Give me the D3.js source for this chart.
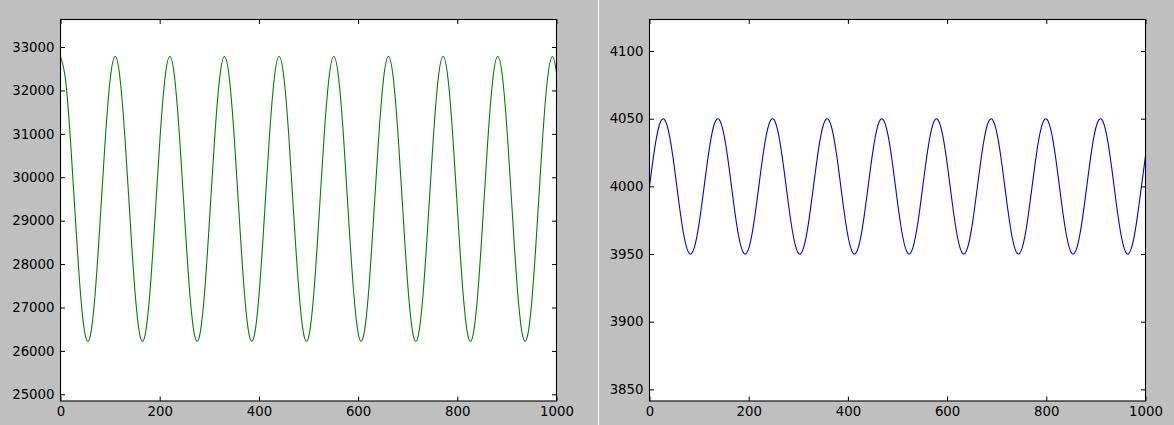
<!DOCTYPE html>
<html>
<head>
<meta charset="utf-8">
<script src="https://cdn.jsdelivr.net/npm/d3@7"></script>
<style>
  html, body { margin: 0; padding: 0; background: #bfbfbf; }
  svg { display: block; }
  text { font-family: "DejaVu Sans", sans-serif; }
</style>
</head>
<body>
<svg id="chart" width="1174" height="425"></svg>
<script>
// ---- data ----
const sampleX = [0,10.0,20.0,30.1,40.1,50.1,60.1,70.1,80.1,90.2,100.2,
  110.2,120.2,130.2,140.3,150.3,160.3,170.3,180.3,190.3,200.4,210.4,
  220.4,230.4,240.4,250.5,260.5,270.5,280.5,290.5,300.5,310.6,320.6,
  330.6,340.6,350.6,360.7,370.7,380.7,390.7,400.7,410.7,420.8,430.8,
  440.8,450.8,460.8,470.8,480.9,490.9,500.9,510.9,520.9,531.0,541.0,
  551.0,561.0,571.0,581.0,591.1,601.1,611.1,621.1,631.1,641.2,651.2,
  661.2,671.2,681.2,691.3,701.3,711.3,721.3,731.3,741.3,751.4,761.4,
  771.4,781.4,791.4,801.5,811.5,821.5,831.5,841.5,851.5,861.6,871.6,
  881.6,891.6,901.6,911.7,921.7,931.7,941.7,951.7,961.7,971.8,981.8,
  991.8,1000];

const leftValues = [
  32780,32259,30863,29033,27352,26353,26353,27352,29033,30863,32259,
  32780,32259,30863,29033,27352,26353,26353,27352,29033,30863,32259,
  32780,32259,30863,29033,27352,26353,26353,27352,29033,30863,32259,
  32780,32259,30863,29033,27352,26353,26353,27352,29033,30863,32259,
  32780,32259,30863,29033,27352,26353,26353,27352,29033,30863,32259,
  32780,32259,30863,29033,27352,26353,26353,27352,29033,30863,32259,
  32780,32259,30863,29033,27352,26353,26353,27352,29033,30863,32259,
  32780,32259,30863,29033,27352,26353,26353,27352,29033,30863,32259,
  32780,32259,30863,29033,27352,26353,26353,27352,29033,30863,32259,
  32780,32428];

const rightValues = [
  4000,4027.0,4045.5,4049.5,4037.8,4014.1,3985.9,3962.2,3950.5,3954.5,3973.0,
  4000,4027.0,4045.5,4049.5,4037.8,4014.1,3985.9,3962.2,3950.5,3954.5,3973.0,
  4000,4027.0,4045.5,4049.5,4037.8,4014.1,3985.9,3962.2,3950.5,3954.5,3973.0,
  4000,4027.0,4045.5,4049.5,4037.8,4014.1,3985.9,3962.2,3950.5,3954.5,3973.0,
  4000,4027.0,4045.5,4049.5,4037.8,4014.1,3985.9,3962.2,3950.5,3954.5,3973.0,
  4000,4027.0,4045.5,4049.5,4037.8,4014.1,3985.9,3962.2,3950.5,3954.5,3973.0,
  4000,4027.0,4045.5,4049.5,4037.8,4014.1,3985.9,3962.2,3950.5,3954.5,3973.0,
  4000,4027.0,4045.5,4049.5,4037.8,4014.1,3985.9,3962.2,3950.5,3954.5,3973.0,
  4000,4027.0,4045.5,4049.5,4037.8,4014.1,3985.9,3962.2,3950.5,3954.5,3973.0,
  4000,4022.5];

const xTicks = [0,200,400,600,800,1000];
const leftYTicks = [25000,26000,27000,28000,29000,30000,31000,32000,33000];
const rightYTicks = [3850,3900,3950,4000,4050,4100];

// ---- drawing ----
const svg = d3.select("#chart");
svg.append("rect").attr("width",1174).attr("height",425).attr("fill","#bfbfbf");
svg.append("line").attr("x1",598.5).attr("x2",598.5).attr("y1",0).attr("y2",425)
  .attr("stroke","#ffffff").attr("stroke-width",1);

function panel(cfg) {
  const x = d3.scaleLinear().domain([0,1000]).range([cfg.left, cfg.right]);
  const y = d3.scaleLinear().domain(cfg.yDomain).range([cfg.bottom, cfg.top]);
  const g = svg.append("g");
  g.append("rect").attr("x",cfg.left).attr("y",cfg.top)
    .attr("width",cfg.right-cfg.left).attr("height",cfg.bottom-cfg.top)
    .attr("fill","#ffffff");

  const pts = sampleX.map((xv,i)=>[xv, cfg.values[i]]);
  const line = d3.line().x(d=>x(d[0])).y(d=>y(d[1])).curve(d3.curveNatural);
  g.append("path").attr("d", line(pts)).attr("fill","none")
    .attr("stroke", cfg.color).attr("stroke-width",1.1);

  const style = sel => {
    sel.select(".domain").remove();
    sel.selectAll(".tick line").attr("stroke","#000").attr("stroke-width",1);
    sel.selectAll(".tick text").attr("fill","#000")
      .style("font-family","DejaVu Sans, sans-serif").style("font-size","13.3px");
  };
  g.append("g").attr("transform",`translate(0,${cfg.bottom})`)
    .call(d3.axisBottom(x).tickValues(xTicks).tickFormat(d3.format("d"))
      .tickSizeInner(-4.5).tickSizeOuter(0).tickPadding(6)).call(style);
  g.append("g").attr("transform",`translate(0,${cfg.top})`)
    .call(d3.axisTop(x).tickValues(xTicks).tickFormat("")
      .tickSizeInner(-4.5).tickSizeOuter(0)).call(style);
  g.append("g").attr("transform",`translate(${cfg.left},0)`)
    .call(d3.axisLeft(y).tickValues(cfg.yTicks).tickFormat(d3.format("d"))
      .tickSizeInner(-4.5).tickSizeOuter(0).tickPadding(6)).call(style);
  g.append("g").attr("transform",`translate(${cfg.right},0)`)
    .call(d3.axisRight(y).tickValues(cfg.yTicks).tickFormat("")
      .tickSizeInner(-4.5).tickSizeOuter(0)).call(style);

  g.append("rect").attr("x",cfg.left).attr("y",cfg.top)
    .attr("width",cfg.right-cfg.left).attr("height",cfg.bottom-cfg.top)
    .attr("fill","none").attr("stroke","#000").attr("stroke-width",1.1);
}

panel({left:60.5, right:556.5, top:19.5, bottom:401, yDomain:[24846,33634],
  yTicks:leftYTicks, values:leftValues, color:"#008000"});
panel({left:649.5, right:1145.5, top:19.5, bottom:401, yDomain:[3841.4,4123.3],
  yTicks:rightYTicks, values:rightValues, color:"#0000ff"});
</script>
</body>
</html>
